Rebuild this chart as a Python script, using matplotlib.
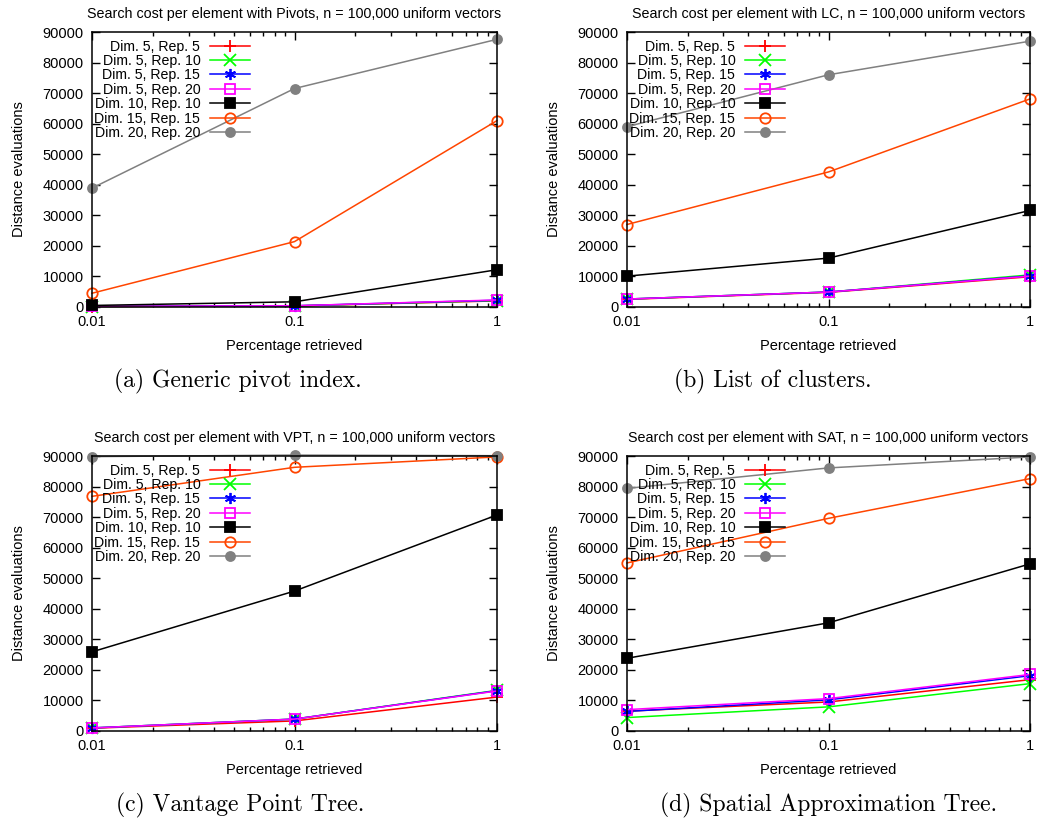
import numpy as np
import matplotlib
matplotlib.use('Agg')
import matplotlib.pyplot as plt
from matplotlib.ticker import FixedLocator, NullFormatter

plt.rcParams['font.family'] = ['Liberation Sans', 'DejaVu Sans']

# x positions (percentage retrieved)
pct = [0.01, 0.1, 1]

labels = ['Dim. 5, Rep. 5', 'Dim. 5, Rep. 10', 'Dim. 5, Rep. 15', 'Dim. 5, Rep. 20',
          'Dim. 10, Rep. 10', 'Dim. 15, Rep. 15', 'Dim. 20, Rep. 20']

# distance evaluations, one list per series, panel by panel
pivots = [
    [150, 350, 2000],
    [150, 350, 2100],
    [200, 400, 2200],
    [200, 400, 2300],
    [500, 1700, 12200],
    [4500, 21400, 61000],
    [38900, 71500, 87600],
]
lc = [
    [2500, 4800, 9900],
    [2600, 4900, 10500],
    [2600, 4900, 10200],
    [2600, 4900, 10100],
    [10100, 16000, 31600],
    [27000, 44200, 68100],
    [59000, 76000, 87000],
]
vpt = [
    [900, 3300, 11100],
    [1000, 3900, 13300],
    [1000, 3900, 13200],
    [1000, 3900, 13100],
    [25900, 45800, 70700],
    [76800, 86300, 89700],
    [89800, 90300, 90100],
]
sat = [
    [6500, 9500, 16800],
    [4400, 7900, 15500],
    [6400, 10200, 18100],
    [7000, 10600, 18500],
    [23800, 35400, 54700],
    [55000, 69600, 82600],
    [79400, 86100, 89700],
]

titles = ['Search cost per element with Pivots, n = 100,000 uniform vectors',
          'Search cost per element with LC, n = 100,000 uniform vectors',
          'Search cost per element with VPT, n = 100,000 uniform vectors',
          'Search cost per element with SAT, n = 100,000 uniform vectors']
captions = ['(a) Generic pivot index.', '(b) List of clusters.',
            '(c) Vantage Point Tree.', '(d) Spatial Approximation Tree.']
y_ticks = list(range(0, 90001, 10000))

colors = ['#ff0000', '#00ff00', '#0000ff', '#ff00ff', '#000000', '#ff4500', '#808080']
markers = ['+', 'x', (6, 2, 0), 's', 's', 'o', 'o']
fills = ['full', 'full', 'full', 'none', 'full', 'none', 'full']
msizes = [9, 8, 8, 7, 7.5, 7.5, 6.5]

W, H = 1037, 823
fig = plt.figure(figsize=(W / 100, H / 100), dpi=100)

# pixel boxes: left, top, right, bottom
boxes = [(92, 32, 497, 307), (627, 32, 1030, 307),
         (92, 456, 497, 731), (627, 456, 1030, 731)]
cap_pos = [(238, 381), (773, 381), (240, 805), (829, 805)]

for i, data in enumerate([pivots, lc, vpt, sat]):
    l, t, r, b = boxes[i]
    ax = fig.add_axes([l / W, 1 - b / H, (r - l) / W, (b - t) / H])
    for j, ys in enumerate(data):
        ax.plot(pct, ys, color=colors[j], marker=markers[j], fillstyle=fills[j],
                ms=msizes[j], mew=1.3, lw=1.1, label=labels[j], clip_on=False)
    ax.set_xscale('log')
    ax.set_xlim(0.01, 1)
    ax.set_ylim(0, 90000)
    ax.set_xticks(pct)
    ax.set_xticklabels(['0.01', '0.1', '1'])
    ax.xaxis.set_minor_locator(FixedLocator([k * 10.0 ** e for e in (-2, -1) for k in range(2, 10)]))
    ax.xaxis.set_minor_formatter(NullFormatter())
    ax.set_yticks(y_ticks)
    ax.set_yticklabels([str(v) for v in y_ticks])
    ax.tick_params(which='both', direction='in', top=True, right=True, labelsize=10.5, width=1)
    ax.tick_params(which='major', length=6, pad=6)
    ax.tick_params(which='minor', length=3)
    for s in ax.spines.values():
        s.set_linewidth(1.1)
    ax.set_title(titles[i], fontsize=10.3, pad=10)
    ax.set_xlabel('Percentage retrieved', fontsize=10.5, labelpad=7)
    ax.set_ylabel('Distance evaluations', fontsize=10.5, labelpad=12)
    ax.legend(loc='upper left', bbox_to_anchor=(-0.008, 0.993), frameon=False,
              markerfirst=False, fontsize=10.2, handlelength=2.8, handletextpad=0.7,
              labelspacing=0.03, borderaxespad=0.2, borderpad=0.2)
    fig.text(cap_pos[i][0] / W, 1 - cap_pos[i][1] / H, captions[i], ha='center', va='center',
             fontsize=17, family=['cmr10', 'DejaVu Serif'])

fig.savefig('out.png', dpi=100)
